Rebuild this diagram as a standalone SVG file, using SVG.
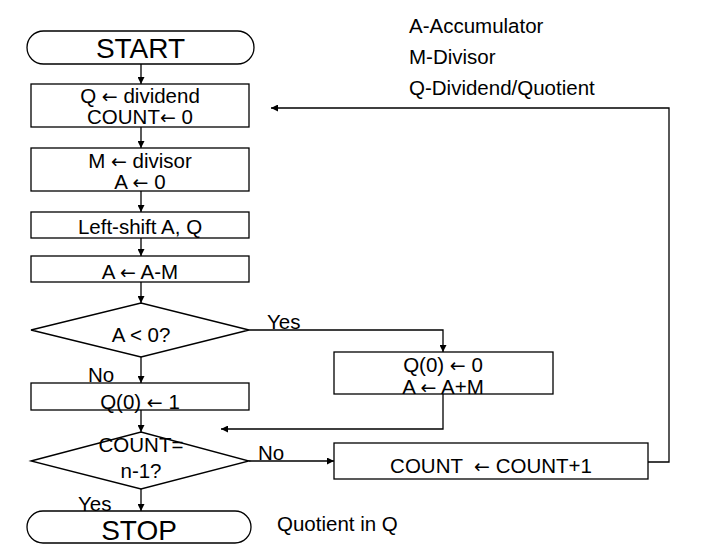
<svg xmlns="http://www.w3.org/2000/svg" width="715" height="553" viewBox="0 0 715 553">
<defs>
<style>
.s{fill:#fff;stroke:#000;stroke-width:1.3}
.t{font-family:"Liberation Sans",Arial,sans-serif;font-size:20.5px;fill:#000}
.c{text-anchor:middle}
.big{font-size:28px}
.ar{font-family:"DejaVu Sans",sans-serif;font-size:19px}
.ln{fill:none;stroke:#000;stroke-width:1.3}
</style>
<marker id="ah" viewBox="0 0 10 10" refX="10" refY="5" markerWidth="7" markerHeight="7" markerUnits="userSpaceOnUse" orient="auto">
<path d="M0,0 L10,5 L0,10 z" fill="#000"/>
</marker>
</defs>
<rect width="715" height="553" fill="#fff"/>
<g id="connectors">
<line class="ln" x1="141" y1="64" x2="141" y2="84" marker-end="url(#ah)"/>
<line class="ln" x1="141" y1="127" x2="141" y2="148" marker-end="url(#ah)"/>
<line class="ln" x1="141" y1="191" x2="141" y2="212" marker-end="url(#ah)"/>
<line class="ln" x1="141" y1="238" x2="141" y2="256" marker-end="url(#ah)"/>
<line class="ln" x1="141" y1="282" x2="141" y2="303" marker-end="url(#ah)"/>
<polyline class="ln" points="249,330 443,330 443,352" marker-end="url(#ah)"/>
<polyline class="ln" points="443,394 443,429 221,429" marker-end="url(#ah)"/>
<line class="ln" x1="141" y1="357" x2="141" y2="383" marker-end="url(#ah)"/>
<line class="ln" x1="141" y1="410" x2="141" y2="432" marker-end="url(#ah)"/>
<line class="ln" x1="249" y1="461" x2="334" y2="461" marker-end="url(#ah)"/>
<polyline class="ln" points="648,462 669,462 669,108 271,108" marker-end="url(#ah)"/>
<line class="ln" x1="141" y1="489" x2="141" y2="511" marker-end="url(#ah)"/>
<text class="t" x="267" y="329">Yes</text>
<text class="t" x="88" y="382">No</text>
<text class="t" x="258" y="460">No</text>
<text class="t" x="78" y="511">Yes</text>
</g>
<g id="start">
<rect class="s" x="27" y="31" width="227" height="33" rx="16.5"/>
<text class="t big c" x="140.5" y="58">START</text>
</g>
<g id="init">
<rect class="s" x="31" y="84" width="218" height="43"/>
<text class="t c" x="140" y="103">Q <tspan class="ar">←</tspan> dividend</text>
<text class="t c" x="140" y="124">COUNT<tspan class="ar">←</tspan> 0</text>
</g>
<g id="init2">
<rect class="s" x="31" y="148" width="218" height="43"/>
<text class="t c" x="140" y="168">M <tspan class="ar">←</tspan> divisor</text>
<text class="t c" x="140" y="189">A <tspan class="ar">←</tspan> 0</text>
</g>
<g id="shift">
<rect class="s" x="31" y="212" width="218" height="26"/>
<text class="t c" x="140" y="234">Left-shift A, Q</text>
</g>
<g id="sub">
<rect class="s" x="31" y="256" width="218" height="26"/>
<text class="t c" x="140" y="279">A <tspan class="ar">←</tspan> A-M</text>
</g>
<g id="test1">
<polygon class="s" points="31,330 141,303 249,330 141,357"/>
<text class="t c" x="141" y="342">A &lt; 0?</text>
</g>
<g id="restore">
<rect class="s" x="334" y="352" width="219" height="42"/>
<text class="t c" x="443" y="372">Q(0) <tspan class="ar">←</tspan> 0</text>
<text class="t c" x="443" y="394">A <tspan class="ar">←</tspan> A+M</text>
</g>
<g id="set1">
<rect class="s" x="31" y="383" width="218" height="27"/>
<text class="t c" x="140" y="409">Q(0) <tspan class="ar">←</tspan> 1</text>
</g>
<g id="test2">
<polygon class="s" points="31,461 141,432 249,461 141,489"/>
<text class="t c" x="141" y="452">COUNT=</text>
<text class="t c" x="141" y="478">n-1?</text>
</g>
<g id="inc">
<rect class="s" x="334" y="443" width="314" height="36"/>
<text class="t c" x="491" y="473" xml:space="preserve">COUNT  <tspan class="ar">←</tspan> COUNT+1</text>
</g>
<g id="stop">
<rect class="s" x="27" y="511" width="224" height="32" rx="16"/>
<text class="t big c" x="139" y="540">STOP</text>
</g>
<g id="notes">
<text class="t" x="277" y="531">Quotient in Q</text>
<text class="t" x="409" y="33">A-Accumulator</text>
<text class="t" x="409" y="64">M-Divisor</text>
<text class="t" x="409" y="95">Q-Dividend/Quotient</text>
</g>
</svg>
